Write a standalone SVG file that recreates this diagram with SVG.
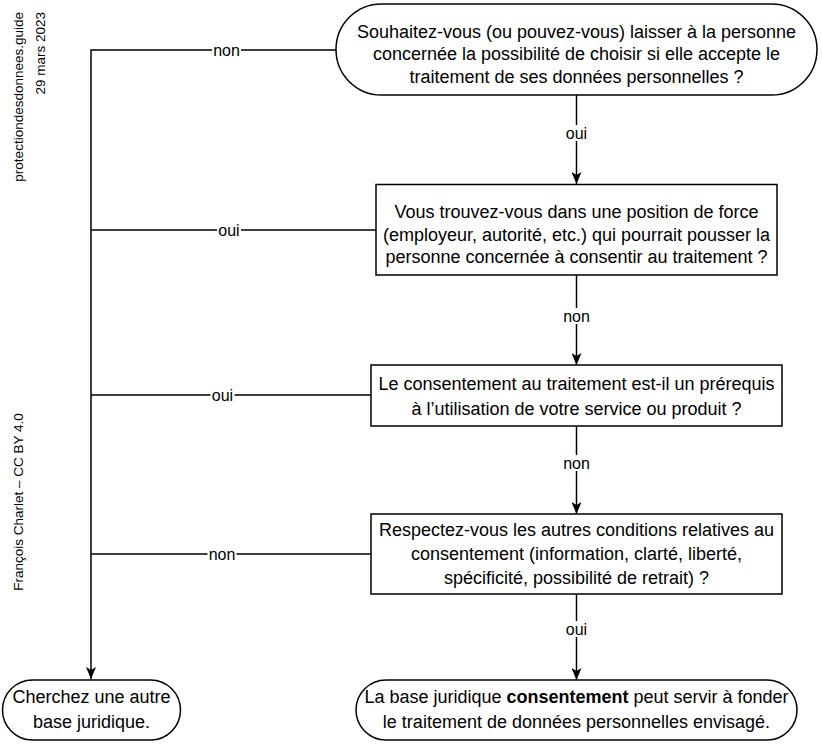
<svg xmlns="http://www.w3.org/2000/svg" width="822" height="750" viewBox="0 0 822 750">
<style>
text{font-family:"Liberation Sans",Arial,Helvetica,sans-serif;fill:#000}
.t{font-size:18px;text-anchor:middle}
.lbl{font-size:16px;text-anchor:middle}
.side{font-size:13.5px}
.node{fill:#fff;stroke:#000;stroke-width:1.5}
.edge{fill:none;stroke:#000;stroke-width:1.5}
.bg{fill:#fff}
</style>
<defs>
<marker id="arr" markerUnits="userSpaceOnUse" viewBox="0 0 12 10" refX="12" refY="5" markerWidth="12" markerHeight="10" orient="auto">
<path d="M0,0 L12,5 L0,10 L3,5 Z" fill="#000"/>
</marker>
</defs>
<rect width="822" height="750" fill="#fff"/>
<g id="meta">
<text class="side" transform="translate(23,12) rotate(-90)" text-anchor="end">protectiondesdonnees.guide</text>
<text class="side" transform="translate(45,12) rotate(-90)" text-anchor="end">29 mars 2023</text>
<text class="side" transform="translate(23,502) rotate(-90)" text-anchor="middle">François Charlet – CC BY 4.0</text>
</g>
<g id="connectors">
<path class="edge" d="M336,50 H91 V679" marker-end="url(#arr)"/>
<path class="edge" d="M376,230 H91"/>
<path class="edge" d="M371,395 H91"/>
<path class="edge" d="M371,554 H91"/>
<path class="edge" d="M576.5,95 V184" marker-end="url(#arr)"/>
<path class="edge" d="M576.5,275 V365" marker-end="url(#arr)"/>
<path class="edge" d="M576.5,426 V514" marker-end="url(#arr)"/>
<path class="edge" d="M576.5,594 V680" marker-end="url(#arr)"/>
<g id="labels">
<rect class="bg" x="212" y="42" width="29" height="16"/><text class="lbl" x="226.5" y="55.5">non</text>
<rect class="bg" x="217" y="222" width="24" height="16"/><text class="lbl" x="229" y="235.5">oui</text>
<rect class="bg" x="210.5" y="387" width="24" height="16"/><text class="lbl" x="222.5" y="400.5">oui</text>
<rect class="bg" x="207.5" y="546" width="29" height="16"/><text class="lbl" x="222" y="559.5">non</text>
<rect class="bg" x="564.5" y="125" width="24" height="16"/><text class="lbl" x="576.5" y="138.5">oui</text>
<rect class="bg" x="562" y="308" width="29" height="16"/><text class="lbl" x="576.5" y="321.5">non</text>
<rect class="bg" x="562" y="455" width="29" height="16"/><text class="lbl" x="576.5" y="468.5">non</text>
<rect class="bg" x="564.5" y="621" width="24" height="16"/><text class="lbl" x="576.5" y="634.5">oui</text>
</g>
</g>
<g id="n1">
<rect class="node" x="336" y="4" width="481" height="91" rx="45.5" ry="45.5"/>
<text class="t" x="576.5" y="37.5">Souhaitez-vous (ou pouvez-vous) laisser à la personne</text>
<text class="t" x="576.5" y="60">concernée la possibilité de choisir si elle accepte le</text>
<text class="t" x="576.5" y="82.5">traitement de ses données personnelles ?</text>
</g>
<g id="n2">
<rect class="node" x="376" y="184.5" width="401" height="90.5"/>
<text class="t" x="576.5" y="218">Vous trouvez-vous dans une position de force</text>
<text class="t" x="576.5" y="240.5">(employeur, autorité, etc.) qui pourrait pousser la</text>
<text class="t" x="576.5" y="263">personne concernée à consentir au traitement ?</text>
</g>
<g id="n3">
<rect class="node" x="371" y="365" width="411" height="61"/>
<text class="t" x="576.5" y="390">Le consentement au traitement est-il un prérequis</text>
<text class="t" x="576.5" y="414.5">à l’utilisation de votre service ou produit ?</text>
</g>
<g id="n4">
<rect class="node" x="371" y="514" width="411" height="80"/>
<text class="t" x="576.5" y="536">Respectez-vous les autres conditions relatives au</text>
<text class="t" x="576.5" y="560">consentement (information, clarté, liberté,</text>
<text class="t" x="576.5" y="584">spécificité, possibilité de retrait) ?</text>
</g>
<g id="n5">
<rect class="node" x="2.5" y="680" width="178" height="60" rx="30" ry="30"/>
<text class="t" x="91.5" y="703">Cherchez une autre</text>
<text class="t" x="91.5" y="727.5">base juridique.</text>
</g>
<g id="n6">
<rect class="node" x="356" y="680" width="441" height="60" rx="30" ry="30"/>
<text class="t" x="576.5" y="703">La base juridique <tspan font-weight="bold">consentement</tspan> peut servir à fonder</text>
<text class="t" x="576.5" y="727.5">le traitement de données personnelles envisagé.</text>
</g>
</svg>
